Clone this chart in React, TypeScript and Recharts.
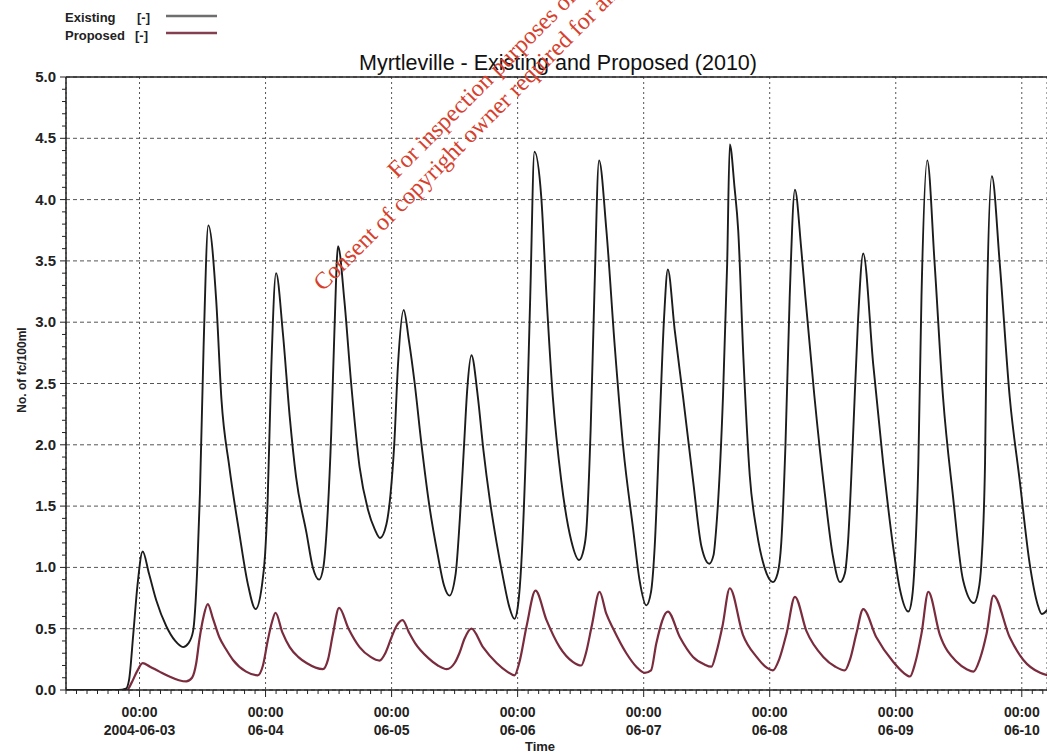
import React from 'react';
import { LineChart, Line, XAxis, YAxis, CartesianGrid, ReferenceLine } from 'recharts';

// ---- tick labels / categories ----
const dayLabels = ['2004-06-03', '06-04', '06-05', '06-06', '06-07', '06-08', '06-09', '06-10'];
const dayHours = [0, 24, 48, 72, 96, 120, 144, 168];
const yMajor = [0, 0.5, 1, 1.5, 2, 2.5, 3, 3.5, 4, 4.5, 5];

// ---- series values: [hours since 2004-06-03 00:00, value] ----
const existingSeries: [number, number][] = [
  [-14, 0], [-4, 0], [-2.6, 0.01], [-2, 0.08], [-1.2, 0.45], [-0.4, 0.85], [0.6, 1.13], [1.8, 0.95], [3.2, 0.73], [5.1, 0.52], [6.8, 0.4], [8.3, 0.35], [9.3, 0.38], [10.2, 0.48], [11.0, 1.0], [11.5, 1.6], [12.2, 2.8], [13.1, 3.79],
  [14.6, 3.18], [15.6, 2.37], [17.1, 1.82], [19.0, 1.28], [20.6, 0.87], [22.1, 0.66], [23.3, 0.85], [23.9, 1.1], [24.4, 1.55], [25.1, 2.64], [26.0, 3.4],
  [27.3, 2.91], [28.6, 2.23], [29.8, 1.74], [31.8, 1.28], [33.0, 1.0], [34.2, 0.9], [35.0, 1.0], [35.7, 1.35], [36.5, 2.09], [37.1, 2.91], [37.8, 3.62],
  [39.0, 3.18], [40.3, 2.5], [41.9, 1.82], [43.5, 1.47], [44.8, 1.31], [45.8, 1.24], [47.0, 1.35], [47.8, 1.6], [48.5, 2.0], [49.2, 2.64], [50.3, 3.1],
  [51.3, 2.85], [52.4, 2.5], [53.7, 2.0], [55.2, 1.5], [56.8, 1.1], [58.0, 0.85], [59.0, 0.77], [60.2, 0.95], [61.0, 1.4], [61.8, 2.0], [62.4, 2.45], [63.2, 2.73],
  [64.4, 2.4], [65.5, 1.95], [66.7, 1.55], [68.0, 1.2], [69.3, 0.9], [70.4, 0.68], [71.4, 0.58], [72.1, 0.7], [72.7, 1.03], [73.7, 2.12], [74.4, 3.21], [75.2, 4.39],
  [76.5, 4.02], [77.5, 3.21], [78.7, 2.39], [80.3, 1.71], [82.2, 1.22], [83.7, 1.06], [84.6, 1.15], [85.1, 1.31], [85.9, 2.12], [86.6, 3.21], [87.5, 4.32],
  [88.9, 3.75], [90.5, 2.8], [92.1, 1.98], [94.0, 1.31], [95.2, 0.9], [96.5, 0.69], [97.4, 0.8], [98.1, 1.17], [99.0, 2.12], [99.9, 3.05], [100.6, 3.43],
  [101.9, 2.94], [103.5, 2.39], [105.4, 1.71], [107.0, 1.17], [108.5, 1.03], [109.3, 1.1], [109.8, 1.31], [111.1, 2.39], [111.9, 3.48], [112.4, 4.45],
  [113.3, 4.1], [114.0, 3.75], [115.0, 2.7], [116.2, 1.75], [117.5, 1.3], [119.0, 1.0], [120.6, 0.88], [121.5, 0.95], [122.2, 1.2], [123.0, 2.0], [123.8, 3.2], [124.8, 4.08],
  [126.0, 3.6], [126.8, 3.2], [128.5, 2.4], [130.5, 1.6], [132.0, 1.1], [133.4, 0.88], [134.3, 0.95], [134.9, 1.2], [135.8, 2.0], [136.8, 3.0], [137.8, 3.56],
  [139.7, 2.66], [141.6, 1.85], [143.5, 1.17], [144.8, 0.82], [146.4, 0.64], [147.1, 0.75], [147.6, 1.03], [148.3, 1.85], [148.9, 3.21], [150.0, 4.32],
  [151.4, 3.48], [153.0, 2.39], [154.9, 1.58], [156.8, 0.9], [158.9, 0.71], [159.7, 0.8], [160.3, 1.03], [161.0, 1.85], [161.4, 3.21], [162.3, 4.19],
  [163.8, 3.48], [165.7, 2.39], [167.6, 1.71], [169.5, 1.03], [171.0, 0.7], [171.8, 0.62], [173, 0.66],
];

const proposedSeries: [number, number][] = [
  [-14, 0], [-4, 0], [-2.4, 0.0], [-1.5, 0.06], [-0.5, 0.15], [0.6, 0.22], [2.0, 0.19], [3.8, 0.15], [5.7, 0.11], [7.5, 0.08], [8.9, 0.07], [10.0, 0.1], [10.8, 0.22], [11.4, 0.41], [12.2, 0.6], [13.0, 0.7],
  [14.0, 0.58], [15.2, 0.43], [16.5, 0.33], [17.8, 0.245], [20.3, 0.15], [22.5, 0.12], [23.5, 0.2], [24.4, 0.4], [25.2, 0.55], [25.9, 0.63],
  [27.2, 0.47], [28.6, 0.35], [30.2, 0.27], [31.8, 0.22], [34.9, 0.17], [35.9, 0.25], [36.8, 0.45], [38.0, 0.67],
  [39.8, 0.5], [41.9, 0.35], [44.0, 0.27], [45.7, 0.24], [46.8, 0.3], [47.9, 0.42], [48.9, 0.52], [50.1, 0.57],
  [51.3, 0.47], [52.5, 0.38], [55.0, 0.26], [56.8, 0.2], [58.5, 0.17], [60.0, 0.22], [60.9, 0.3], [61.9, 0.42], [63.2, 0.5],
  [65.4, 0.35], [68.0, 0.22], [70.0, 0.15], [71.4, 0.12], [72.3, 0.22], [73.7, 0.52], [75.4, 0.81],
  [77.5, 0.57], [80.0, 0.35], [82.5, 0.23], [84.1, 0.2], [85.0, 0.3], [86.1, 0.52], [87.6, 0.8],
  [88.9, 0.62], [90.2, 0.5], [92.7, 0.3], [94.6, 0.19], [96.2, 0.14], [97.4, 0.16], [98.4, 0.38], [100.6, 0.64],
  [102.9, 0.43], [105.4, 0.27], [107.5, 0.21], [108.9, 0.19], [109.8, 0.3], [111.0, 0.52], [112.4, 0.83],
  [114.9, 0.45], [117.5, 0.27], [119.5, 0.18], [120.6, 0.16], [121.8, 0.25], [123.2, 0.46], [124.8, 0.76],
  [127.0, 0.48], [130.2, 0.27], [132.5, 0.19], [134.3, 0.16], [135.3, 0.25], [136.5, 0.46], [137.8, 0.66],
  [140.3, 0.43], [143.5, 0.23], [145.5, 0.14], [146.7, 0.11], [147.7, 0.22], [148.9, 0.46], [150.2, 0.8],
  [152.4, 0.45], [155.6, 0.23], [157.5, 0.17], [158.8, 0.15], [160.0, 0.25], [161.3, 0.46], [162.6, 0.77],
  [165.7, 0.43], [168.3, 0.245], [171.5, 0.14], [173, 0.12],
];

const existingData = existingSeries.map(([t, v]) => ({ t, v }));
const proposedData = proposedSeries.map(([t, v]) => ({ t, v }));

// minor ticks: every 2 hours on x, every 0.1 on y
const xMinor: number[] = [];
for (let h = -14; h <= 172; h += 2) xMinor.push(h);
const yMinor: number[] = [];
for (let i = 0; i <= 50; i++) yMinor.push(i / 10);

const FONT = '"Liberation Sans", Arial, sans-serif';
const AXIS = '#222';

const XTick = (props: any) => {
  const { x, y, payload } = props;
  const h = payload.value;
  const major = h % 24 === 0;
  const idx = dayHours.indexOf(h);
  return (
    <g>
      <line x1={x} x2={x} y1={y} y2={y + (major ? 7 : 4)} stroke={AXIS} strokeWidth={1} />
      {major && idx >= 0 && (
        <>
          <text x={x} y={y + 27} textAnchor="middle" fontFamily={FONT} fontWeight="bold" fontSize={14} fill="#222">00:00</text>
          <text x={x} y={y + 45} textAnchor="middle" fontFamily={FONT} fontWeight="bold" fontSize={14} fill="#222">{dayLabels[idx]}</text>
        </>
      )}
    </g>
  );
};

const YTick = (props: any) => {
  const { x, y, payload } = props;
  const v = payload.value;
  const major = Math.round(v * 10) % 5 === 0;
  return (
    <g>
      <line x1={x - (major ? 6 : 4)} x2={x} y1={y} y2={y} stroke={AXIS} strokeWidth={1} />
      {major && (
        <text x={x - 10} y={y + 5} textAnchor="end" fontFamily={FONT} fontWeight="bold" fontSize={15} fill="#222">
          {v.toFixed(1)}
        </text>
      )}
    </g>
  );
};

export default function App() {
  return (
    <div style={{ position: 'absolute', left: 0, top: 0, width: 1047, height: 754, background: '#fff' }}>
      <LineChart width={1047} height={754} margin={{ top: 77, right: 0, bottom: 0, left: 0 }}>
        <XAxis xAxisId="x" dataKey="t" type="number" domain={[-14, 172.8]} allowDataOverflow ticks={xMinor} interval={0}
          tick={<XTick />} tickLine={false} tickSize={0} tickMargin={0} height={64}
          axisLine={{ stroke: AXIS, strokeWidth: 1.5 }} />
        <XAxis xAxisId="g" dataKey="t" type="number" domain={[-14, 172.8]} allowDataOverflow ticks={dayHours} interval={0} height={0} hide />
        <YAxis yAxisId="y" type="number" domain={[0, 5]} allowDataOverflow ticks={yMinor} interval={0} tick={<YTick />} tickLine={false}
          tickSize={0} tickMargin={0} width={66} axisLine={{ stroke: AXIS, strokeWidth: 1.5 }} />
        <YAxis yAxisId="gy" type="number" domain={[0, 5]} allowDataOverflow ticks={yMajor} interval={0} width={0} hide />
        <CartesianGrid xAxisId="g" yAxisId="gy" vertical={false} stroke="#555" strokeDasharray="4 3" />
        <CartesianGrid xAxisId="g" yAxisId="gy" horizontal={false} stroke="#555" strokeDasharray="2 3" />
        <ReferenceLine xAxisId="x" yAxisId="y" y={5} stroke={AXIS} strokeWidth={1.5} />
        <Line xAxisId="x" yAxisId="y" data={proposedData} dataKey="v" type="monotone" stroke="#7a2b3d" strokeWidth={2.2}
          dot={false} isAnimationActive={false} />
        <Line xAxisId="x" yAxisId="y" data={existingData} dataKey="v" type="monotone" stroke="#1c1c1c" strokeWidth={1.9}
          dot={false} isAnimationActive={false} />
      </LineChart>
      <svg width={1047} height={754} style={{ position: 'absolute', left: 0, top: 0, pointerEvents: 'none' }}>
        {/* legend */}
        <text x={65} y={22} fontFamily={FONT} fontWeight="bold" fontSize={13} fill="#222">Existing</text>
        <text x={137} y={22} fontFamily={FONT} fontWeight="bold" fontSize={13} fill="#222">[-]</text>
        <line x1={166} x2={217} y1={16} y2={16} stroke="#6e6e6e" strokeWidth={2.5} />
        <text x={65} y={40} fontFamily={FONT} fontWeight="bold" fontSize={13} fill="#222">Proposed</text>
        <text x={135} y={40} fontFamily={FONT} fontWeight="bold" fontSize={13} fill="#222">[-]</text>
        <line x1={166} x2={217} y1={33} y2={33} stroke="#84404f" strokeWidth={2.5} />
        {/* title */}
        <text x={558} y={70} textAnchor="middle" fontFamily={FONT} fontSize={21.5} fill="#111">
          Myrtleville - Existing and Proposed (2010)
        </text>
        {/* axis titles */}
        <text x={540} y={751} textAnchor="middle" fontFamily={FONT} fontWeight="bold" fontSize={13} fill="#222">Time</text>
        <text x={0} y={0} transform="translate(26 370) rotate(-90)" textAnchor="middle" fontFamily={FONT} fontWeight="bold" fontSize={12} fill="#222">
          No. of fc/100ml
        </text>
        {/* watermark */}
        <text x={397} y={179} transform="rotate(-45 397 179)" fontFamily='"Liberation Serif", serif' fontSize={24} fill="#d6402c">
          For inspection purposes only.
        </text>
        <text x={323} y={292} transform="rotate(-45 323 292)" fontFamily='"Liberation Serif", serif' fontSize={24} fill="#d6402c">
          Consent of copyright owner required for any other use.
        </text>
      </svg>
    </div>
  );
}
